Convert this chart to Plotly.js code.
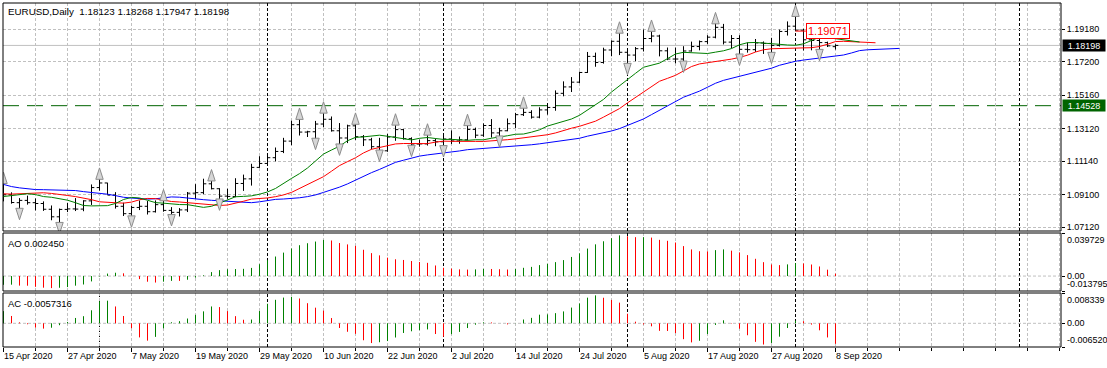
<!DOCTYPE html>
<html><head><meta charset="utf-8">
<script src="https://cdn.plot.ly/plotly-3.0.1.min.js"></script>
<style>html,body{margin:0;padding:0;background:#fff;}#chart{width:1107px;height:368px;}</style>
</head><body><div id="chart"></div>
<script>
// ---------------- DATA ----------------
const symbolTitle = "EURUSD,Daily";
const lastBarText = "1.18123 1.18268 1.17947 1.18198";
const firstDate = "2020-01-20";      // first bar of the series (history used by the indicators)
const visibleStart = "2020-04-15";   // first bar shown on the chart
// daily bars, one per weekday from firstDate
const openP = [1.1091,1.1094,1.1083,1.1093,1.1053,1.1025,1.1018,1.1020,1.1008,1.1030,
1.1093,1.1059,1.1044,1.1000,1.0979,1.0944,1.0909,1.0914,1.0872,1.0840,
1.0830,1.0835,1.0790,1.0805,1.0786,1.0846,1.0852,1.0881,1.0880,1.0993,
1.1025,1.1136,1.1175,1.1134,1.1237,1.1285,1.1448,1.1284,1.1268,1.1180,
1.1105,1.1180,1.0995,1.0917,1.0690,1.0696,1.0723,1.0792,1.0882,1.1030,
1.1142,1.1043,1.1031,1.0962,1.0856,1.0808,1.0792,1.0893,1.0857,1.0935,
1.0940,1.0913,
1.0985,1.0910,1.0862,1.0876,1.0862,1.0857,1.0822,1.0776,1.0821,1.0824,
1.0823,1.0873,1.0954,1.0982,1.0908,1.0840,1.0795,1.0833,1.0840,1.0807,
1.0850,1.0815,1.0803,1.0818,1.0920,1.0923,1.0977,1.0947,1.0902,1.0900,
1.0979,1.1007,1.1077,1.1101,1.1136,1.1174,1.1237,1.1337,1.1292,1.1294,
1.1341,1.1370,1.1300,1.1256,1.1330,1.1264,1.1245,1.1203,1.1178,1.1262,
1.1307,1.1252,1.1219,1.1220,1.1240,1.1233,1.1250,1.1238,1.1245,1.1308,
1.1273,1.1332,1.1287,1.1300,1.1343,1.1398,1.1412,1.1383,1.1427,1.1442,
1.1528,1.1567,1.1596,1.1655,1.1753,1.1716,1.1792,1.1845,1.1778,1.1761,
1.1800,1.1862,1.1877,1.1787,1.1737,1.1737,1.1786,1.1813,1.1843,1.1870,
1.1930,1.1840,1.1862,1.1796,1.1794,1.1835,1.1832,1.1820,1.1905,1.1937,
1.1913,1.1854,1.1850,1.1837,1.18123];
const highP = [1.1100,1.1105,1.1104,1.1100,1.1066,1.1036,1.1029,1.1025,1.1040,1.1097,
1.1096,1.1068,1.1048,1.1015,1.0985,1.0953,1.0926,1.0923,1.0874,1.0863,
1.0851,1.0842,1.0810,1.0815,1.0863,1.0870,1.0888,1.0892,1.1006,1.1054,
1.1185,1.1214,1.1197,1.1243,1.1356,1.1496,1.1450,1.1358,1.1326,1.1208,
1.1238,1.1200,1.1088,1.0928,1.0832,1.0780,1.0891,1.0892,1.1032,1.1148,
1.1148,1.1073,1.1034,1.0972,1.0866,1.0836,1.0925,1.0894,1.0952,1.0950,
1.0955,1.0990,
1.0993,1.0925,1.0890,1.0905,1.0888,1.0870,1.0845,1.0826,1.0861,1.0890,
1.0877,1.0973,1.1019,1.0983,1.0926,1.0862,1.0842,1.0875,1.0872,1.0876,
1.0888,1.0835,1.0829,1.0927,1.0975,1.1008,1.1009,1.0950,1.0947,1.1011,
1.1033,1.1099,1.1145,1.1154,1.1198,1.1257,1.1361,1.1384,1.1300,1.1360,
1.1422,1.1387,1.1347,1.1337,1.1354,1.1274,1.1257,1.1257,1.1281,1.1349,
1.1311,1.1260,1.1246,1.1288,1.1253,1.1270,1.1302,1.1265,1.1346,1.1319,
1.1345,1.1371,1.1318,1.1375,1.1409,1.1452,1.1425,1.1443,1.1469,1.1546,
1.1601,1.1627,1.1660,1.1780,1.1776,1.1806,1.1850,1.1909,1.1790,1.1810,
1.1917,1.1920,1.1885,1.1807,1.1807,1.1815,1.1843,1.1850,1.1882,1.1966,
1.1951,1.1883,1.1882,1.1838,1.1859,1.1844,1.1866,1.1916,1.1966,1.2011,
1.1921,1.1868,1.1883,1.1843,1.18268];
const lowP = [1.1085,1.1077,1.1075,1.1036,1.1019,1.1010,1.1007,1.0992,1.1001,1.1026,
1.1049,1.1039,1.0992,1.0967,1.0940,1.0902,1.0891,1.0867,1.0833,1.0827,
1.0821,1.0786,1.0779,1.0778,1.0783,1.0802,1.0838,1.0850,1.0872,1.0952,
1.1025,1.1097,1.1110,1.1130,1.1208,1.1280,1.1252,1.1250,1.1054,1.1055,
1.1093,1.0960,1.0861,1.0635,1.0637,1.0636,1.0713,1.0759,1.0871,1.0953,
1.1017,1.0926,1.0904,1.0846,1.0778,1.0769,1.0789,1.0830,1.0850,1.0915,
1.0890,1.0904,
1.0870,1.0856,1.0813,1.0850,1.0815,1.0812,1.0755,1.0727,1.0805,1.0811,
1.0810,1.0848,1.0935,1.0910,1.0826,1.0781,1.0767,1.0817,1.0790,1.0802,
1.0807,1.0775,1.0778,1.0805,1.0885,1.0914,1.0943,1.0870,1.0885,1.0895,
1.0934,1.0966,1.1074,1.1098,1.1114,1.1164,1.1212,1.1271,1.1262,1.1240,
1.1321,1.1295,1.1205,1.1225,1.1244,1.1207,1.1187,1.1168,1.1172,1.1239,
1.1246,1.1197,1.1203,1.1210,1.1206,1.1195,1.1219,1.1221,1.1241,1.1255,
1.1263,1.1259,1.1254,1.1297,1.1317,1.1390,1.1374,1.1376,1.1398,1.1422,
1.1510,1.1536,1.1590,1.1652,1.1690,1.1709,1.1754,1.1761,1.1696,1.1724,
1.1783,1.1839,1.1753,1.1730,1.1711,1.1710,1.1782,1.1790,1.1829,1.1863,
1.1826,1.1802,1.1753,1.1776,1.1780,1.1768,1.1763,1.1813,1.1880,1.1906,
1.1789,1.1790,1.1781,1.1810,1.17947];
const closeP = [1.1094,1.1083,1.1093,1.1053,1.1025,1.1018,1.1020,1.1008,1.1030,1.1093,
1.1059,1.1044,1.1000,1.0979,1.0944,1.0909,1.0914,1.0872,1.0840,1.0830,
1.0835,1.0790,1.0805,1.0786,1.0846,1.0852,1.0881,1.0880,1.0993,1.1025,
1.1136,1.1175,1.1134,1.1237,1.1285,1.1448,1.1284,1.1268,1.1180,1.1105,
1.1180,1.0995,1.0917,1.0690,1.0696,1.0723,1.0792,1.0882,1.1030,1.1142,
1.1043,1.1031,1.0962,1.0856,1.0808,1.0792,1.0893,1.0857,1.0935,1.0940,
1.0913,1.0985,
1.0910,1.0863,1.0876,1.0862,1.0857,1.0822,1.0776,1.0821,1.0824,1.0823,
1.0873,1.0954,1.0982,1.0908,1.0840,1.0795,1.0833,1.0840,1.0807,1.0850,
1.0815,1.0803,1.0818,1.0920,1.0923,1.0977,1.0947,1.0902,1.0900,1.0979,
1.1007,1.1077,1.1101,1.1136,1.1174,1.1237,1.1337,1.1292,1.1294,1.1341,
1.1370,1.1300,1.1256,1.1330,1.1264,1.1245,1.1203,1.1178,1.1262,1.1307,
1.1252,1.1219,1.1220,1.1240,1.1233,1.1250,1.1238,1.1245,1.1308,1.1273,
1.1332,1.1287,1.1300,1.1343,1.1398,1.1412,1.1383,1.1427,1.1442,1.1528,
1.1567,1.1596,1.1655,1.1753,1.1716,1.1792,1.1845,1.1778,1.1761,1.1800,
1.1862,1.1877,1.1787,1.1737,1.1737,1.1786,1.1813,1.1843,1.1870,1.1930,
1.1840,1.1862,1.1796,1.1794,1.1835,1.1832,1.1820,1.1905,1.1937,1.1913,
1.1854,1.1850,1.1837,1.1817,1.18198];

const dateTickLabels = ["15 Apr 2020","27 Apr 2020","7 May 2020","19 May 2020","29 May 2020",
"10 Jun 2020","22 Jun 2020","2 Jul 2020","14 Jul 2020","24 Jul 2020","5 Aug 2020",
"17 Aug 2020","27 Aug 2020","8 Sep 2020"];
const priceTicks = [1.19180,1.17200,1.15160,1.13120,1.11140,1.09100,1.07120];
const priceTickText = ["1.19180","1.17200","1.15160","1.13120","1.11140","1.09100","1.07120"];
const aoScale = [0.039729, 0, -0.013795];
const aoScaleText = ["0.039729","0.00","-0.013795"];
const acScale = [0.008339, 0, -0.006520];
const acScaleText = ["0.008339","0.00","-0.006520"];
const aoLabel = "AO 0.002450";
const acLabel = "AC -0.0057316";
const levelLine = 1.14528;       // horizontal line
const bidLevel = 1.18198;        // current price
const priceLabelValue = 1.19071; // price label object
const priceLabelDate = "2020-09-01";
const priceRange = [1.06895, 1.20782];

// ---------------- DERIVED ----------------
const N = openP.length;
const dates = [];
{ let t = Date.parse(firstDate + "T00:00:00Z");
  while (dates.length < N) { const d = new Date(t); const w = d.getUTCDay(); if (w !== 0 && w !== 6) dates.push(d); t += 86400000; } }
const iso = d => d.toISOString().slice(0, 10);
const s0 = dates.findIndex(d => iso(d) === visibleStart);
const xs = dates.map((_, i) => i - s0);
const lastX = xs[N - 1];

const med = highP.map((h, i) => (h + lowP[i]) / 2);
function smma(src, n) {
  const out = new Array(src.length).fill(null); let s = 0;
  for (let i = 0; i < src.length; i++) {
    if (i < n - 1) { s += src[i]; continue; }
    if (i === n - 1) { s += src[i]; out[i] = s / n; }
    else out[i] = (out[i - 1] * (n - 1) + src[i]) / n;
  }
  return out;
}
function sma(src, n) {
  return src.map((_, i) => {
    if (i < n - 1) return null; let s = 0;
    for (let k = i - n + 1; k <= i; k++) { if (src[k] == null) return null; s += src[k]; }
    return s / n;
  });
}
function shifted(vals, sh) {
  const x = [], y = [];
  vals.forEach((v, i) => { if (v != null && xs[i] + sh >= -2) { x.push(xs[i] + sh); y.push(v); } });
  return { x, y };
}
const jaw = shifted(smma(med, 13), 8), teeth = shifted(smma(med, 8), 5), lips = shifted(smma(med, 5), 3);
const s5 = sma(med, 5), s34 = sma(med, 34);
const ao = med.map((_, i) => (s5[i] != null && s34[i] != null) ? s5[i] - s34[i] : null);
const aoS = sma(ao, 5);
const ac = ao.map((v, i) => (v != null && aoS[i] != null) ? v - aoS[i] : null);

function histo(vals, yaxis) {
  const g = { x: [], y: [] }, r = { x: [], y: [] };
  for (let i = s0; i < N; i++) {
    const t = vals[i] > vals[i - 1] ? g : r;
    t.x.push(xs[i], xs[i], null); t.y.push(0, vals[i], null);
  }
  return [
    { type: 'scatter', mode: 'lines', x: g.x, y: g.y, yaxis, line: { color: '#008000', width: 1 }, hoverinfo: 'skip' },
    { type: 'scatter', mode: 'lines', x: r.x, y: r.y, yaxis, line: { color: '#ff0000', width: 1 }, hoverinfo: 'skip' }
  ];
}

// fractals
const pxPrice = (priceRange[1] - priceRange[0]) / 228;
const fu = { x: [], y: [] }, fd = { x: [], y: [] };
for (let i = 2; i < N - 2; i++) {
  if (xs[i] < 0) continue;
  if (highP[i] > highP[i - 1] && highP[i] > highP[i - 2] && highP[i] >= highP[i + 1] && highP[i] >= highP[i + 2]) { fu.x.push(xs[i]); fu.y.push(highP[i] + 9 * pxPrice); }
  if (lowP[i] < lowP[i - 1] && lowP[i] < lowP[i - 2] && lowP[i] <= lowP[i + 1] && lowP[i] <= lowP[i + 2]) { fd.x.push(xs[i]); fd.y.push(lowP[i] - 9 * pxPrice); }
}

// month separators (future months extended by calendar days)
const seps = [];
for (let i = s0 + 1; i < N; i++) if (dates[i].getUTCMonth() !== dates[i - 1].getUTCMonth()) seps.push(xs[i]);
{ const ld = dates[N - 1]; const nm = Date.UTC(ld.getUTCFullYear(), ld.getUTCMonth() + 1, 1);
  seps.push(lastX + Math.round((nm - ld.getTime()) / 86400000)); }

const tickIdx = dateTickLabels.map((_, k) => k * 8);
const plX = xs[dates.findIndex(d => iso(d) === priceLabelDate)];

// ---------------- TRACES ----------------
const font = 'Liberation Sans, Arial, sans-serif';
const fractalMarker = { symbol: 'arrow', size: 12, color: '#d6d6d6', line: { color: '#8c8c8c', width: 1 } };
const traces = [
  { type: 'scatter', mode: 'lines', x: jaw.x, y: jaw.y, line: { color: '#0000ff', width: 1 }, hoverinfo: 'skip' },
  { type: 'scatter', mode: 'lines', x: teeth.x, y: teeth.y, line: { color: '#ff0000', width: 1 }, hoverinfo: 'skip' },
  { type: 'scatter', mode: 'lines', x: lips.x, y: lips.y, line: { color: '#008000', width: 1 }, hoverinfo: 'skip' },
  { type: 'ohlc', x: xs, open: openP, high: highP, low: lowP, close: closeP, tickwidth: 0.35,
    increasing: { line: { color: '#000000', width: 1 } }, decreasing: { line: { color: '#000000', width: 1 } }, hoverinfo: 'skip' },
  { type: 'scatter', mode: 'markers', x: fu.x, y: fu.y, marker: Object.assign({ angle: 0 }, fractalMarker), hoverinfo: 'skip' },
  { type: 'scatter', mode: 'markers', x: fd.x, y: fd.y, marker: Object.assign({ angle: 180 }, fractalMarker), hoverinfo: 'skip' },
  ...histo(ao, 'y2'),
  ...histo(ac, 'y3')
];

// ---------------- LAYOUT ----------------
const grid = { gridcolor: '#c0c0c0', griddash: '3px,2px', gridwidth: 1 };
const shapes = [];
['y', 'y2', 'y3'].forEach(ax => {
  seps.forEach(s => shapes.push({ type: 'line', layer: 'below', xref: 'x', yref: ax + ' domain', x0: s, x1: s, y0: 0, y1: 1, line: { color: '#000000', width: 1, dash: '3px,2px' } }));
});
shapes.push({ type: 'line', layer: 'below', xref: 'paper', yref: 'y2', x0: 0, x1: 1, y0: 0, y1: 0, line: { color: '#c0c0c0', width: 1, dash: '3px,2px' } });
shapes.push({ type: 'line', layer: 'below', xref: 'paper', yref: 'y3', x0: 0, x1: 1, y0: 0, y1: 0, line: { color: '#c0c0c0', width: 1, dash: '3px,2px' } });
shapes.push({ type: 'line', layer: 'below', xref: 'paper', yref: 'y', x0: 0, x1: 1, y0: bidLevel, y1: bidLevel, line: { color: '#c0c0c0', width: 1 } });
shapes.push({ type: 'line', layer: 'below', xref: 'paper', yref: 'y', x0: 0, x1: 1, y0: levelLine, y1: levelLine, line: { color: '#006400', width: 1, dash: '16px,8px' } });
shapes.push({ type: 'line', layer: 'above', xref: 'x', yref: 'y', x0: plX, x1: plX + 1.3, y0: priceLabelValue, y1: priceLabelValue, line: { color: '#ff0000', width: 1 } });
['y', 'y2', 'y3'].forEach(ax => shapes.push({ type: 'rect', layer: 'above', xref: 'paper', yref: ax + ' domain', x0: 0, x1: 1, y0: 0, y1: 1, line: { color: '#000000', width: 1 } }));

const ann = [];
const txt = (o) => Object.assign({ showarrow: false, font: { family: font, size: 9.5, color: '#000000' } }, o);
ann.push(txt({ text: symbolTitle + '  ' + lastBarText, xref: 'paper', yref: 'paper', x: 0, y: 1, xanchor: 'left', yanchor: 'top', xshift: 3, yshift: -1, font: { family: font, size: 9.8, color: '#000' } }));
ann.push(txt({ text: aoLabel, xref: 'paper', yref: 'y2 domain', x: 0, y: 1, xanchor: 'left', yanchor: 'top', xshift: 3, yshift: -3 }));
ann.push(txt({ text: acLabel, xref: 'paper', yref: 'y3 domain', x: 0, y: 1, xanchor: 'left', yanchor: 'top', xshift: 3, yshift: -3 }));
const anchors = ['top', 'middle', 'bottom'];
aoScale.forEach((v, k) => ann.push(txt({ text: aoScaleText[k], xref: 'paper', yref: 'y2', x: 1, y: v, xanchor: 'left', yanchor: anchors[k], xshift: 4, font: { family: font, size: 9, color: '#000' } })));
acScale.forEach((v, k) => ann.push(txt({ text: acScaleText[k], xref: 'paper', yref: 'y3', x: 1, y: v, xanchor: 'left', yanchor: anchors[k], xshift: 4, font: { family: font, size: 9, color: '#000' } })));
ann.push({ text: bidLevel.toFixed(5), xref: 'paper', yref: 'y', x: 1, y: bidLevel, xanchor: 'left', yanchor: 'middle', xshift: 1, showarrow: false,
  bgcolor: '#000000', width: 42, height: 11, borderpad: 0, font: { family: font, size: 9, color: '#ffffff' } });
ann.push({ text: levelLine.toFixed(5), xref: 'paper', yref: 'y', x: 1, y: levelLine, xanchor: 'left', yanchor: 'middle', xshift: 1, showarrow: false,
  bgcolor: '#006400', width: 42, height: 11, borderpad: 0, font: { family: font, size: 9, color: '#ffffff' } });
ann.push({ text: priceLabelValue.toFixed(5), xref: 'x', yref: 'y', x: plX + 1.3, y: priceLabelValue, xanchor: 'left', yanchor: 'middle', showarrow: false,
  bgcolor: '#ffffff', bordercolor: '#ff0000', borderwidth: 1, borderpad: 1, font: { family: font, size: 11, color: '#ff0000' } });

const layout = {
  width: 1107, height: 368,
  margin: { l: 3, r: 46, t: 3, b: 21, pad: 0 },
  paper_bgcolor: '#ffffff', plot_bgcolor: '#ffffff',
  showlegend: false, hovermode: false,
  font: { family: font, size: 9, color: '#000000' },
  xaxis: Object.assign({
    range: [-0.0625, 132.1875], anchor: 'y3', tickmode: 'array', tickvals: tickIdx, ticktext: dateTickLabels,
    ticks: 'outside', ticklen: 4, tickcolor: '#000', ticklabelposition: 'outside right', showgrid: true,
    zeroline: false, showline: false, rangeslider: { visible: false }, fixedrange: true,
    tickfont: { family: font, size: 9, color: '#000' },
    minor: { tick0: 0, dtick: 4, ticks: 'outside', ticklen: 3, tickcolor: '#000', showgrid: true, gridcolor: '#c0c0c0', griddash: '3px,2px' }
  }, grid),
  yaxis: Object.assign({
    domain: [116 / 344, 1], range: priceRange, side: 'right', tickmode: 'array', tickvals: priceTicks, ticktext: priceTickText,
    ticks: 'outside', ticklen: 3, tickcolor: '#000', showgrid: true, zeroline: false, showline: false, fixedrange: true,
    tickfont: { family: font, size: 9, color: '#000' }
  }, grid),
  yaxis2: { domain: [56 / 344, 114 / 344], range: [aoScale[2], aoScale[0]], side: 'right', tickmode: 'array', tickvals: aoScale,
    ticks: 'outside', ticklen: 3, tickcolor: '#000', showticklabels: false, showgrid: false, zeroline: false, fixedrange: true },
  yaxis3: { domain: [0, 54 / 344], range: [acScale[2], acScale[0]], side: 'right', tickmode: 'array', tickvals: acScale,
    ticks: 'outside', ticklen: 3, tickcolor: '#000', showticklabels: false, showgrid: false, zeroline: false, fixedrange: true },
  shapes, annotations: ann
};
Plotly.newPlot('chart', traces, layout, { staticPlot: true, displayModeBar: false });
</script></body></html>
